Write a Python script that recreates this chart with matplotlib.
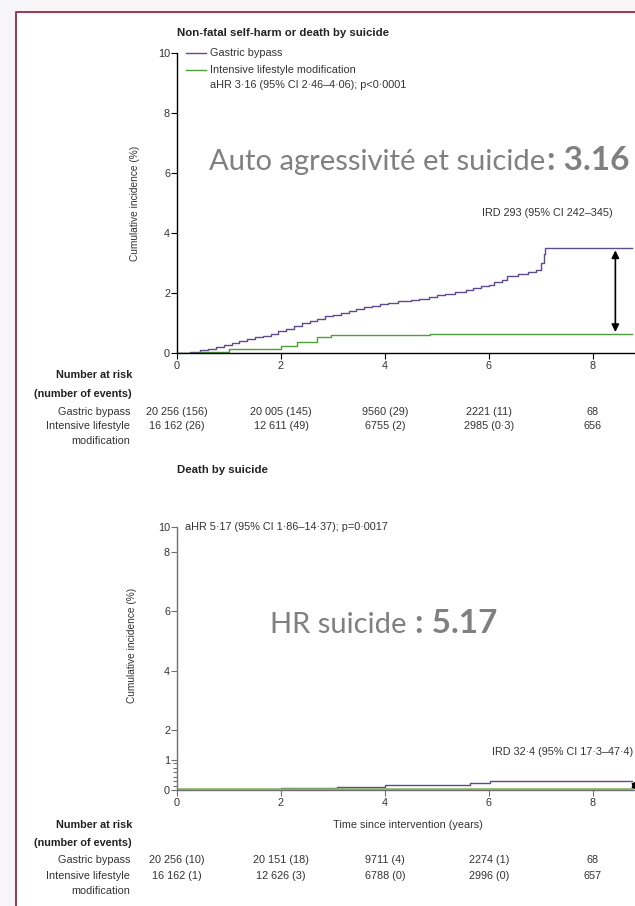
import numpy as np
import matplotlib
matplotlib.use('Agg')
import matplotlib.pyplot as plt
import matplotlib.transforms as mtransforms
from matplotlib.patches import Rectangle
from matplotlib.lines import Line2D

plt.rcParams['font.family'] = ['Liberation Sans', 'DejaVu Sans']

W, H = 635, 906

# --- data ---
# top panel: non-fatal self-harm or death by suicide
gb_t = [0.0, 0.25, 0.35, 0.45, 0.6, 0.75, 0.9, 1.05, 1.2, 1.35, 1.5, 1.65, 1.8, 1.95,
        2.1, 2.25, 2.4, 2.55, 2.7, 2.85, 3.0, 3.15, 3.3, 3.45, 3.6, 3.75, 3.9, 4.05,
        4.25, 4.5, 4.65, 4.85, 5.0, 5.15, 5.35, 5.55, 5.7, 5.85, 6.0, 6.1, 6.25, 6.35,
        6.55, 6.75, 6.9, 7.0, 7.05, 7.08, 8.75]
gb_v = [0.0, 0.02, 0.05, 0.09, 0.14, 0.2, 0.26, 0.32, 0.39, 0.46, 0.52, 0.58, 0.65, 0.72,
        0.8, 0.9, 1.0, 1.08, 1.15, 1.22, 1.28, 1.35, 1.41, 1.47, 1.52, 1.58, 1.63, 1.68,
        1.72, 1.76, 1.8, 1.86, 1.92, 1.98, 2.04, 2.1, 2.17, 2.22, 2.27, 2.36, 2.45, 2.56,
        2.63, 2.7, 2.78, 3.0, 3.3, 3.5, 3.5]
il_t = [0.0, 0.45, 1.0, 2.0, 2.3, 2.7, 2.97, 4.87, 8.75]
il_v = [0.0, 0.04, 0.14, 0.24, 0.36, 0.53, 0.6, 0.64, 0.64]

# bottom panel: death by suicide
gb2_t = [0.0, 2.0, 3.07, 4.0, 5.64, 6.02, 8.75]
gb2_v = [0.0, 0.06, 0.11, 0.17, 0.22, 0.3, 0.3]
il2_t = [0.0, 3.07, 8.75]
il2_v = [0.0, 0.01, 0.01]

risk_years = [0, 2, 4, 6, 8]
risk1_gb = ['20 256 (156)', '20 005 (145)', '9560 (29)', '2221 (11)', '68']
risk1_il = ['16 162 (26)', '12 611 (49)', '6755 (2)', '2985 (0·3)', '656']
risk2_gb = ['20 256 (10)', '20 151 (18)', '9711 (4)', '2274 (1)', '68']
risk2_il = ['16 162 (1)', '12 626 (3)', '6788 (0)', '2996 (0)', '657']

purple = '#5e4b8b'
green1 = '#4e9e3a'
green2 = '#86b865'
grey_big = '#808080'
txt = '#333333'
fs = 7.8
big_fs = 21
num_fs = 24


def fx(x):
    return x / W


def fy(y):
    return 1 - y / H


fig = plt.figure(figsize=(W / 100, H / 100), dpi=100)
fig.patch.set_facecolor('#f7f5f7')
fig.patches.append(Rectangle((fx(16), 0), 1, fy(12), transform=fig.transFigure,
                             facecolor='white', edgecolor='none', zorder=-5))
fig.lines.append(Line2D([fx(16), fx(16), 1], [0, fy(12), fy(12)], transform=fig.transFigure,
                        color='#9c3552', lw=1.4, zorder=-4))


def style_axes(ax, spine_col):
    for s in ['top', 'right']:
        ax.spines[s].set_visible(False)
    for s in ['left', 'bottom']:
        ax.spines[s].set_color(spine_col)
        ax.spines[s].set_linewidth(1.0)
    ax.tick_params(direction='out', length=4, width=0.8, colors=spine_col,
                   labelcolor=txt, labelsize=fs)
    ax.tick_params(axis='y', pad=1)
    ax.tick_params(axis='x', pad=2)
    ax.set_facecolor('none')
    ax.set_xlim(0, 9.0)
    ax.set_xticks(risk_years)


# ---------- top panel ----------
ax1 = fig.add_axes([fx(177), fy(353), 468 / W, 300 / H])
style_axes(ax1, 'black')
ax1.set_ylim(0, 10)
ax1.set_yticks([0, 2, 4, 6, 8, 10])
ax1.step(gb_t, gb_v, where='post', color=purple, lw=1.0)
ax1.step(il_t, il_v, where='post', color=green1, lw=1.0)
ax1.annotate('', xy=(8.43, 0.7), xytext=(8.43, 3.42),
             arrowprops=dict(arrowstyle='<|-|>', color='black', lw=1.2, mutation_scale=11,
                             shrinkA=0, shrinkB=0))
ax1.set_ylabel('Cumulative incidence (%)', fontsize=fs - 0.5, color=txt)
ax1.yaxis.set_label_coords((140 - 177) / 468, 0.5)

fig.text(fx(177), fy(33), 'Non-fatal self-harm or death by suicide', fontsize=fs + 0.4,
         fontweight='bold', color='#222222', va='center')
fig.lines.append(Line2D([fx(186), fx(206)], [fy(53), fy(53)], transform=fig.transFigure,
                        color=purple, lw=1.0))
fig.lines.append(Line2D([fx(186), fx(206)], [fy(70), fy(70)], transform=fig.transFigure,
                        color=green1, lw=1.0))
fig.text(fx(210), fy(53), 'Gastric bypass', fontsize=fs, color=txt, va='center')
fig.text(fx(210), fy(70), 'Intensive lifestyle modification', fontsize=fs, color=txt,
         va='center')
fig.text(fx(210), fy(85), 'aHR 3·16 (95% CI 2·46–4·06); p<0·0001', fontsize=fs, color=txt,
         va='center')
fig.text(fx(482), fy(213), 'IRD 293 (95% CI 242–345)', fontsize=fs, color=txt, va='center')

big1 = fig.text(fx(209), fy(170), 'Auto agressivité et suicide', fontsize=big_fs,
                family='Lato', color=grey_big, va='baseline')
fig.add_artist(matplotlib.text.Annotation(': 3.16', xy=(1, 0), xycoords=big1,
                                          xytext=(1, 0), textcoords='offset points',
                                          fontsize=num_fs, family='Lato', fontweight='bold',
                                          color=grey_big, va='bottom', ha='left'))


# ---------- bottom panel ----------
def fwd(y):
    y = np.asarray(y, dtype=float)
    return np.where(y <= 8, y, 8 + (y - 8) * 25 / 60)


def inv(y):
    y = np.asarray(y, dtype=float)
    return np.where(y <= 8, y, 8 + (y - 8) * 60 / 25)


ax2 = fig.add_axes([fx(177), fy(790), 468 / W, 263 / H])
style_axes(ax2, '#707070')
ax2.set_yscale('function', functions=(fwd, inv))
ax2.set_ylim(0, 10)
ax2.set_yticks([0, 1, 2, 4, 6, 8, 10])
ax2.set_yticklabels(['0', '1', '2', '4', '6', '8', '10'])
ax2.set_yticks([0.15, 0.3, 0.45, 0.6, 0.75, 0.9], minor=True)
ax2.tick_params(axis='y', which='minor', length=3, width=0.8, colors='#707070')
ax2.step(gb2_t, gb2_v, where='post', color=purple, lw=1.0)
ax2.step(il2_t, il2_v, where='post', color=green2, lw=2.6)
ax2.annotate('', xy=(8.8, 0.0), xytext=(8.8, 0.3),
             arrowprops=dict(arrowstyle='<|-|>', color='black', lw=1.2, mutation_scale=8,
                             shrinkA=0, shrinkB=0))
ax2.set_ylabel('Cumulative incidence (%)', fontsize=fs - 0.5, color=txt)
ax2.yaxis.set_label_coords((137 - 177) / 468, (790 - 645) / 263)
fig.text(fx(408), fy(825), 'Time since intervention (years)', fontsize=fs, color=txt,
         ha='center', va='center')

fig.text(fx(177), fy(470), 'Death by suicide', fontsize=fs + 0.4, fontweight='bold',
         color='#222222', va='center')
fig.text(fx(185), fy(527), 'aHR 5·17 (95% CI 1·86–14·37); p=0·0017', fontsize=fs,
         color=txt, va='center')
fig.text(fx(492), fy(752), 'IRD 32·4 (95% CI 17·3–47·4)', fontsize=fs, color=txt,
         va='center')

big2 = fig.text(fx(270), fy(633), 'HR suicide ', fontsize=big_fs, family='Lato',
                color=grey_big, va='baseline')
fig.add_artist(matplotlib.text.Annotation(': 5.17', xy=(1, 0), xycoords=big2,
                                          xytext=(1, 0), textcoords='offset points',
                                          fontsize=num_fs, family='Lato', fontweight='bold',
                                          color=grey_big, va='bottom', ha='left'))


# ---------- number at risk tables ----------
def risk_table(ax, ys, row_gb, row_il):
    tr = mtransforms.blended_transform_factory(ax.transData, fig.transFigure)
    y_nr, y_ne, y_gb, y_il, y_mod = ys
    fig.text(fx(132), fy(y_nr), 'Number at risk', fontsize=fs, fontweight='bold',
             color='#222222', ha='right', va='center')
    fig.text(fx(132), fy(y_ne), '(number of events)', fontsize=fs, fontweight='bold',
             color='#222222', ha='right', va='center')
    fig.text(fx(130), fy(y_gb), 'Gastric bypass', fontsize=fs, color=txt, ha='right',
             va='center')
    fig.text(fx(130), fy(y_il), 'Intensive lifestyle', fontsize=fs, color=txt, ha='right',
             va='center')
    fig.text(fx(130), fy(y_mod), 'modification', fontsize=fs, color=txt, ha='right',
             va='center')
    for yr, a, b in zip(risk_years, row_gb, row_il):
        ax.text(yr, fy(y_gb), a, transform=tr, fontsize=fs, color=txt, ha='center',
                va='center', clip_on=False)
        ax.text(yr, fy(y_il), b, transform=tr, fontsize=fs, color=txt, ha='center',
                va='center', clip_on=False)


risk_table(ax1, (375, 394, 412, 426, 441), risk1_gb, risk1_il)
risk_table(ax2, (825, 843, 860, 876, 891), risk2_gb, risk2_il)

fig.savefig('out.png', dpi=100, facecolor=fig.get_facecolor())
